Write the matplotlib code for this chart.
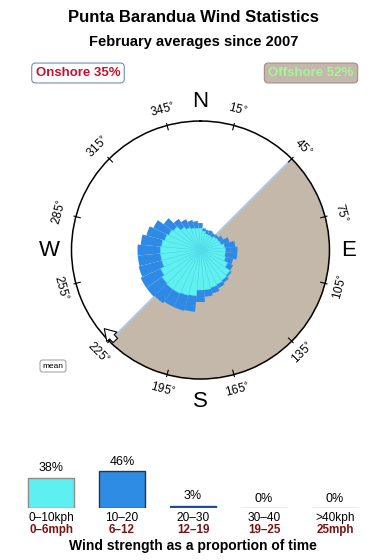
import numpy as np
import matplotlib.pyplot as plt

plt.rcParams['font.family'] = ['Liberation Sans', 'DejaVu Sans']

# DATOS
# sectores de direccion (grados) y % del tiempo en cada sector
directions = np.arange(0, 360, 10)
light = [0.45, 0.34, 0.27, 0.27, 0.27, 0.34, 0.37, 0.41, 0.54, 0.58,
         0.58, 0.63, 0.84, 1.21, 1.28, 1.35, 1.42, 1.50, 1.50, 1.98,
         2.06, 2.15, 2.15, 2.06, 1.81, 1.50, 1.50, 1.50, 1.42, 1.28,
         1.14, 1.02, 0.73, 0.58, 0.49, 0.45]          # 0-10 kph
medium = [0.23, 0.11, 0.14, 0.18, 0.14, 0.11, 0.21, 0.43, 0.60, 0.70,
          0.70, 0.45, 0.37, 0.14, 0.22, 0.30, 0.47, 0.56, 1.03, 1.61,
          1.65, 1.56, 1.80, 2.01, 2.26, 2.33, 2.21, 2.21, 1.94, 1.65,
          1.39, 0.87, 0.62, 0.50, 0.41, 0.34]         # 10-20 kph

speed_kph = ['0–10kph', '10–20', '20–30', '30–40', '>40kph']
speed_mph = ['0–6mph', '6–12', '12–19', '19–25', '25mph']
speed_pct = [38, 46, 3, 0, 0]

onshore = 35
offshore = 52
offshore_from, offshore_to = 45, 225
mean_dir = 225
RMAX = 3.944

fig = plt.figure(figsize=(3.9, 5.6), dpi=100)

fig.text(0.497, 1 - 18/560, 'Punta Barandua Wind Statistics', ha='center', va='center',
         fontsize=12, fontweight='bold')
fig.text(0.497, 1 - 42/560, 'February averages since 2007', ha='center', va='center',
         fontsize=10.5, fontweight='bold')
fig.text(78/390, 1 - 73/560, f'Onshore {onshore}%', ha='center', va='center',
         fontsize=9.5, fontweight='bold', color='#c8102e',
         bbox=dict(boxstyle='round,pad=0.3', fc='white', ec='#6f8fb0', lw=0.8))
fig.text(311/390, 1 - 73/560, f'Offshore {offshore}%', ha='center', va='center',
         fontsize=9.5, fontweight='bold', color='#a4f59a',
         bbox=dict(boxstyle='round,pad=0.3', fc='#c4b8ab', ec='#a09080', lw=0.8))
fig.text(53/390, 1 - 366/560, 'mean', ha='center', va='center', fontsize=6,
         bbox=dict(boxstyle='round,pad=0.3', fc='white', ec='#888888', lw=0.6))

# ROSA DE VIENTOS
ax = fig.add_axes([0.1833, 0.3232, 0.6615, 0.4607], projection='polar')
ax.set_theta_zero_location('N')
ax.set_theta_direction(-1)
ax.set_ylim(0, RMAX)
ax.grid(False)
ax.set_xticks([])
ax.set_yticks([])
ax.spines['polar'].set_linewidth(1.1)

# zona offshore
th = np.radians(np.linspace(offshore_from, offshore_to, 200))
ax.fill_between(th, 0, RMAX, color='#c4b8ab', lw=0, zorder=1)
ax.plot(np.radians([offshore_from, offshore_from]), [RMAX, 0], color='#9cc4e6', lw=1, zorder=2)
ax.plot(np.radians([offshore_to, offshore_to]), [0, RMAX], color='#9cc4e6', lw=1, zorder=2)

cum_light = np.array(light)
cum_mid = cum_light + np.array(medium)
w = np.radians(10)
ax.bar(np.radians(directions), np.sqrt(cum_mid), width=w, color='#2f8ae6', lw=0, zorder=3)
ax.bar(np.radians(directions), np.sqrt(cum_light), width=w, color='#60f0f0',
       edgecolor='#50dcea', lw=0.3, zorder=4)

# marcas y etiquetas de grados
for a in range(15, 360, 30):
    rot = (-a + 90) % 180 - 90
    ax.plot([np.radians(a)] * 2, [RMAX * 0.965, RMAX * 1.015], color='black', lw=0.8,
            zorder=5, clip_on=False)
    ax.text(np.radians(a), RMAX * 1.125, f'{a}$^{{\\circ}}$', rotation=rot, ha='center',
            va='center', fontsize=8.5)

for lab, ang, rr in [('N', 0, 1.15), ('E', 90, 1.15), ('S', 180, 1.175), ('W', 270, 1.175)]:
    ax.text(np.radians(ang), RMAX * rr, lab, ha='center', va='center', fontsize=16)

# flecha media
ax.annotate('', xy=(np.radians(mean_dir + 7), RMAX * 0.965),
            xytext=(np.radians(mean_dir - 3), RMAX * 0.965),
            arrowprops=dict(arrowstyle='simple,head_width=1.0,head_length=0.8,tail_width=0.45',
                            fc='white', ec='black', lw=0.8), zorder=6)

# BARRAS DE VELOCIDAD
bax = fig.add_axes([15.5/390, 52/560, 355/390, 48/560])
bax.set_xlim(-0.5, 4.5)
bax.set_ylim(0, 60)
bax.axis('off')
colors = ['#5ef0f0', '#2f8ce4', '#1c4ea0', '#aaaaaa', '#aaaaaa']
edges = ['#8c8c8c', '#333333', '#1c4ea0', '#999999', '#999999']
x = np.arange(len(speed_pct))
bax.bar(x, speed_pct, width=0.634, color=colors, edgecolor=edges, lw=1)
for i, v in enumerate(speed_pct):
    bax.annotate(f'{v}%', (i, v), xytext=(0, 2.5), textcoords='offset points',
                 ha='center', va='bottom', fontsize=9)
    bax.annotate(speed_kph[i], (i, 0), xytext=(0, -7.3), textcoords='offset points',
                 ha='center', va='center', fontsize=8.6, annotation_clip=False)
    bax.annotate(speed_mph[i], (i, 0), xytext=(0, -15.6), textcoords='offset points',
                 ha='center', va='center', fontsize=8.4, fontweight='bold',
                 color='#7a1212', annotation_clip=False)

fig.text(193/390, 1 - 546/560, 'Wind strength as a proportion of time', ha='center',
         va='center', fontsize=10, fontweight='bold')

plt.savefig('out.png', dpi=100)
